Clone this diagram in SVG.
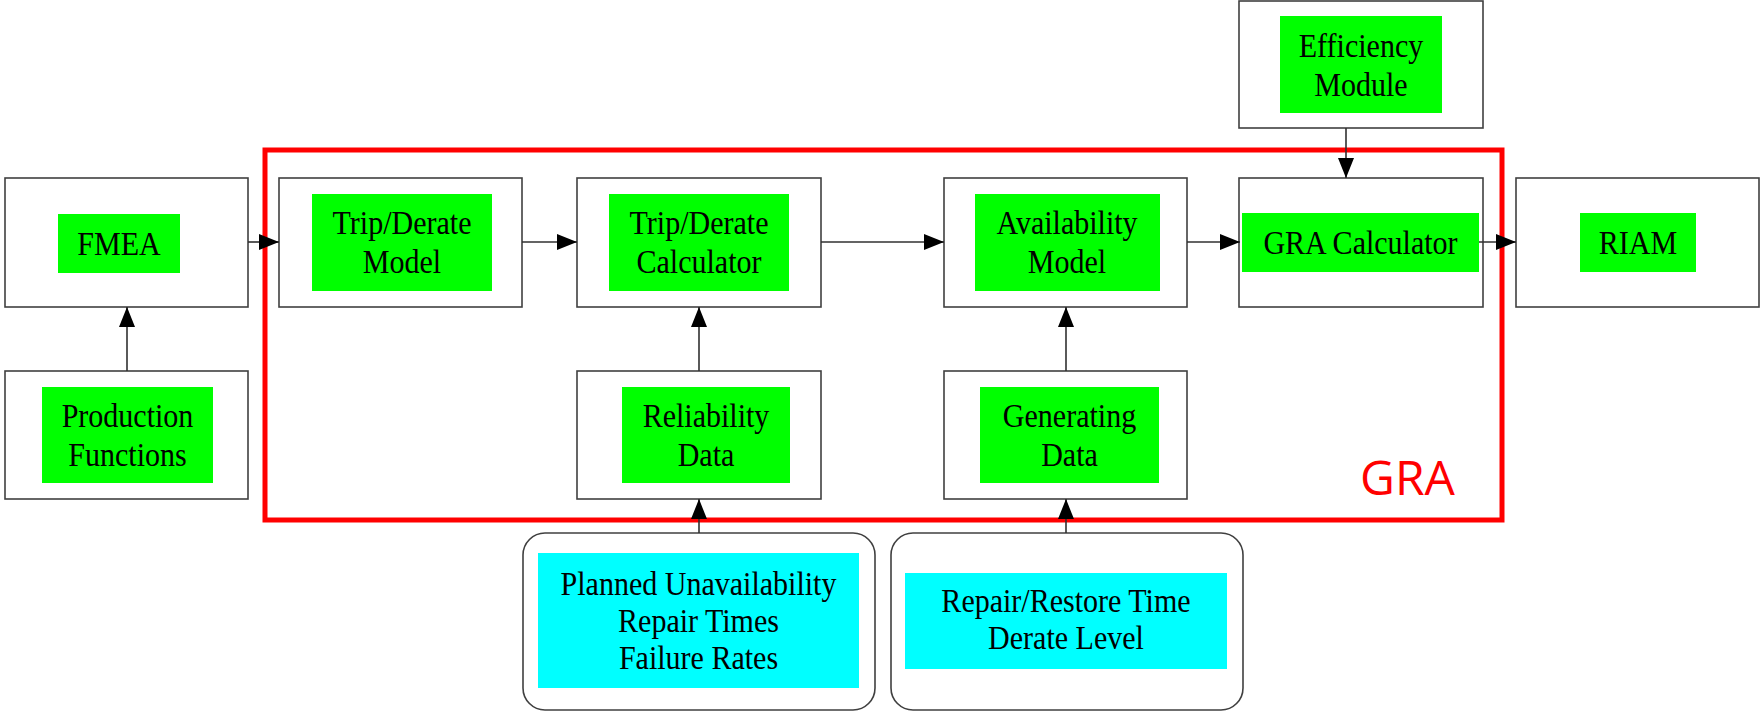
<svg xmlns="http://www.w3.org/2000/svg" width="1762" height="712" viewBox="0 0 1762 712">
  <style>
    .box { fill: #ffffff; stroke: #404040; stroke-width: 1.6; }
    .rbox { fill: #ffffff; stroke: #404040; stroke-width: 1.6; }
    .green { fill: #00ff00; }
    .cyan { fill: #00ffff; }
    .lbl { font-family: "Liberation Serif", "Times New Roman", serif; font-size: 33px; fill: #000000; text-anchor: middle; }
    .edge { stroke: #303030; stroke-width: 1.6; fill: none; marker-end: url(#arrow); }
    .group { fill: none; stroke: #ff0000; stroke-width: 5; }
    .grp-lbl { font-family: "Open Sans", "Liberation Sans", sans-serif; font-size: 48px; fill: #ff0000; }
  </style>
  <defs>
    <marker id="arrow" markerUnits="userSpaceOnUse" markerWidth="20" markerHeight="16" refX="20" refY="8" orient="auto">
      <path d="M0,0 L20,8 L0,16 z" fill="#000000"/>
    </marker>
  </defs>

  <rect width="1762" height="712" fill="#ffffff"/>

  <!-- GRA boundary -->
  <g id="gra-boundary">
    <rect class="group" x="265" y="150" width="1237" height="370"/>
    <text class="grp-lbl" x="1360" y="495">GRA</text>
  </g>

  <!-- nodes; labels use a slightly condensed serif (scaled 0.91 horizontally around the label centre) -->
  <g id="fmea">
    <rect class="box" x="5" y="178" width="243" height="129"/>
    <rect class="green" x="58" y="214" width="122" height="59"/>
    <g transform="translate(119 0) scale(0.91 1)">
      <text class="lbl" x="0" y="255">FMEA</text>
    </g>
  </g>
  <g id="production-functions">
    <rect class="box" x="5" y="371" width="243" height="128"/>
    <rect class="green" x="42" y="387" width="171" height="96"/>
    <g transform="translate(127.5 0) scale(0.91 1)">
      <text class="lbl" x="0" y="427">Production</text>
      <text class="lbl" x="0" y="466">Functions</text>
    </g>
  </g>
  <g id="trip-derate-model">
    <rect class="box" x="279" y="178" width="243" height="129"/>
    <rect class="green" x="312" y="194" width="180" height="97"/>
    <g transform="translate(402 0) scale(0.91 1)">
      <text class="lbl" x="0" y="234.5">Trip/Derate</text>
      <text class="lbl" x="0" y="273">Model</text>
    </g>
  </g>
  <g id="trip-derate-calculator">
    <rect class="box" x="577" y="178" width="244" height="129"/>
    <rect class="green" x="609" y="194" width="180" height="97"/>
    <g transform="translate(699 0) scale(0.91 1)">
      <text class="lbl" x="0" y="234.5">Trip/Derate</text>
      <text class="lbl" x="0" y="273">Calculator</text>
    </g>
  </g>
  <g id="availability-model">
    <rect class="box" x="944" y="178" width="243" height="129"/>
    <rect class="green" x="975" y="194" width="185" height="97"/>
    <g transform="translate(1067 0) scale(0.91 1)">
      <text class="lbl" x="0" y="234.5">Availability</text>
      <text class="lbl" x="0" y="273">Model</text>
    </g>
  </g>
  <g id="gra-calculator">
    <rect class="box" x="1239" y="178" width="244" height="129"/>
    <rect class="green" x="1242" y="213" width="237" height="59"/>
    <g transform="translate(1360.5 0) scale(0.91 1)">
      <text class="lbl" x="0" y="254.5">GRA Calculator</text>
    </g>
  </g>
  <g id="riam">
    <rect class="box" x="1516" y="178" width="243" height="129"/>
    <rect class="green" x="1580" y="213" width="116" height="59"/>
    <g transform="translate(1638 0) scale(0.91 1)">
      <text class="lbl" x="0" y="254.5">RIAM</text>
    </g>
  </g>
  <g id="efficiency-module">
    <rect class="box" x="1239" y="1" width="244" height="127"/>
    <rect class="green" x="1280" y="16" width="162" height="97"/>
    <g transform="translate(1361 0) scale(0.91 1)">
      <text class="lbl" x="0" y="57">Efficiency</text>
      <text class="lbl" x="0" y="96">Module</text>
    </g>
  </g>
  <g id="reliability-data">
    <rect class="box" x="577" y="371" width="244" height="128"/>
    <rect class="green" x="622" y="387" width="168" height="96"/>
    <g transform="translate(706 0) scale(0.91 1)">
      <text class="lbl" x="0" y="427">Reliability</text>
      <text class="lbl" x="0" y="466">Data</text>
    </g>
  </g>
  <g id="generating-data">
    <rect class="box" x="944" y="371" width="243" height="128"/>
    <rect class="green" x="980" y="387" width="179" height="96"/>
    <g transform="translate(1069.5 0) scale(0.91 1)">
      <text class="lbl" x="0" y="427">Generating</text>
      <text class="lbl" x="0" y="466">Data</text>
    </g>
  </g>
  <g id="reliability-inputs">
    <rect class="rbox" x="523" y="533" width="352" height="177" rx="22" ry="22"/>
    <rect class="cyan" x="538" y="553" width="321" height="135"/>
    <g transform="translate(698.5 0) scale(0.91 1)">
      <text class="lbl" x="0" y="595">Planned Unavailability</text>
      <text class="lbl" x="0" y="632">Repair Times</text>
      <text class="lbl" x="0" y="669">Failure Rates</text>
    </g>
  </g>
  <g id="generating-inputs">
    <rect class="rbox" x="891" y="533" width="352" height="177" rx="22" ry="22"/>
    <rect class="cyan" x="905" y="573" width="322" height="96"/>
    <g transform="translate(1066 0) scale(0.91 1)">
      <text class="lbl" x="0" y="612">Repair/Restore Time</text>
      <text class="lbl" x="0" y="649">Derate Level</text>
    </g>
  </g>

  <!-- connectors -->
  <g id="connectors">
    <line class="edge" x1="127" y1="371" x2="127" y2="307"/>
    <line class="edge" x1="248" y1="242" x2="279" y2="242"/>
    <line class="edge" x1="522" y1="242" x2="577" y2="242"/>
    <line class="edge" x1="821" y1="242" x2="944" y2="242"/>
    <line class="edge" x1="1187" y1="242" x2="1240" y2="242"/>
    <line class="edge" x1="1479" y1="242" x2="1516" y2="242"/>
    <line class="edge" x1="1346" y1="128" x2="1346" y2="178"/>
    <line class="edge" x1="699" y1="371" x2="699" y2="307"/>
    <line class="edge" x1="1066" y1="371" x2="1066" y2="307"/>
    <line class="edge" x1="699" y1="533" x2="699" y2="499"/>
    <line class="edge" x1="1066" y1="533" x2="1066" y2="499"/>
  </g>
</svg>
